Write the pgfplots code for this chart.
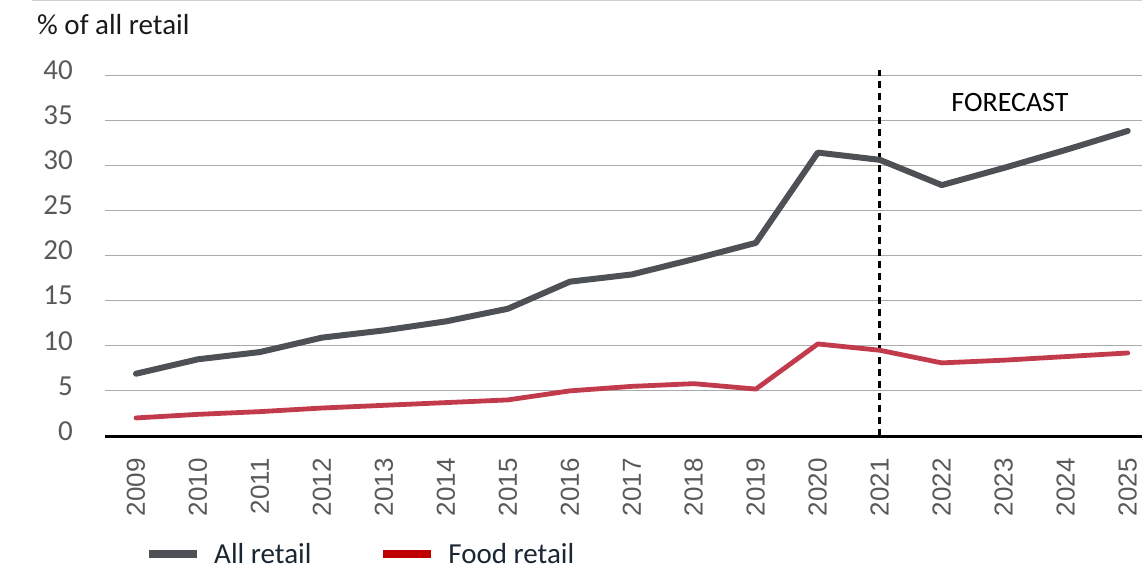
\documentclass[border=0pt]{standalone}
\usepackage{fontspec}
\setmainfont{Carlito}
\newfontfamily\xfont{Liberation Sans}
\usepackage{pgfplots}
\pgfplotsset{compat=1.18}
\definecolor{allgray}{HTML}{4D5055}
\definecolor{foodred}{HTML}{C23B4C}
\definecolor{legred}{HTML}{C00000}
\definecolor{gridgray}{HTML}{ABABAB}
\definecolor{tickgray}{HTML}{595959}
\definecolor{titlecol}{HTML}{1A1A1A}
\definecolor{legtext}{HTML}{1B2633}
\definecolor{topgray}{HTML}{CFCFCF}
\begin{document}
\begin{tikzpicture}
\useasboundingbox (-105bp,-132bp) rectangle (1037bp,436bp);
\draw[color=topgray, line width=1.2bp] (-73bp,435.4bp) -- (1037bp,435.4bp);
\node[anchor=base west, text=titlecol, font=\fontsize{29bp}{29bp}\selectfont, inner sep=0pt] at (-68bp,401bp) {\% of all retail};
\begin{axis}[
  at={(0,0)}, anchor=south west,
  scale only axis, width=1037bp, height=361bp,
  xmin=2008.5, xmax=2025.23, ymin=0, ymax=40,
  xtick={2009,...,2025}, ytick={0,5,...,40},
  /pgf/number format/assume math mode=true,
  /pgf/number format/1000 sep={},
  axis line style={draw=none},
  major tick length=0pt, tick style={draw=none},
  ymajorgrids, grid style={color=gridgray, line width=0.9bp},
  extra y ticks={0}, extra y tick labels={},
  extra y tick style={grid style={color=black, line width=3bp}},
  xticklabel style={rotate=90, anchor=east, inner sep=0pt, text=tickgray, font=\xfont\fontsize{26bp}{26bp}\selectfont},
  xticklabel shift=22bp,
  yticklabel style={anchor=east, inner sep=0pt, yshift=5bp, text=tickgray, font=\fontsize{29bp}{29bp}\selectfont},
  yticklabel shift=32bp,
  clip=false,
  legend columns=2,
  legend style={at={(axis description cs:0.0386,-0.327)}, anchor=west, draw=none, fill=none, inner sep=0pt,
    nodes={inner sep=0pt, font=\fontsize{29bp}{29bp}\selectfont, text=legtext},
    /tikz/every odd column/.append style={column sep=13bp},
    /tikz/every even column/.append style={column sep=68bp}},
  legend image code/.code={\draw[#1, line width=8bp, line cap=butt] (0bp,0bp) -- (48bp,0bp);},
]
\addplot[forget plot, black, line width=2.8bp, dash pattern=on 7bp off 5bp] coordinates {(2021,0) (2021,40.6)};
\addplot[forget plot, allgray, line width=6bp, line cap=round, line join=round] coordinates {
(2009,6.9) (2010,8.5) (2011,9.3) (2012,10.9) (2013,11.7) (2014,12.7) (2015,14.1) (2016,17.1)
(2017,17.9) (2018,19.6) (2019,21.4) (2020,31.4) (2021,30.6) (2022,27.8) (2023,29.7) (2024,31.7) (2025,33.8)};
\addplot[forget plot, foodred, line width=4.8bp, line cap=round, line join=round] coordinates {
(2009,2.0) (2010,2.4) (2011,2.7) (2012,3.1) (2013,3.4) (2014,3.7) (2015,4.0) (2016,5.0)
(2017,5.5) (2018,5.8) (2019,5.2) (2020,10.2) (2021,9.5) (2022,8.1) (2023,8.4) (2024,8.8) (2025,9.2)};
\addlegendimage{allgray}
\addlegendentry{All retail}
\addlegendimage{legred}
\addlegendentry{Food retail}
\node[font=\fontsize{28bp}{28bp}\selectfont, text=black] at (axis cs:2023.1,36.9) {FORECAST};
\end{axis}
\end{tikzpicture}
\end{document}
